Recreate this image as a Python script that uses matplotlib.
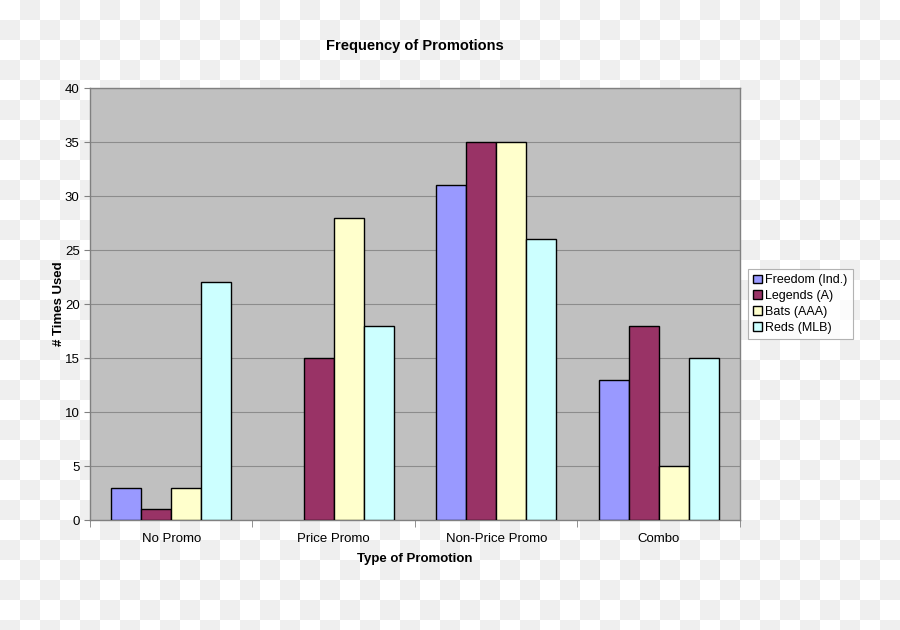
import matplotlib
matplotlib.use("Agg")
import matplotlib.pyplot as plt
import numpy as np
from matplotlib.patches import Rectangle

categories = ["No Promo", "Price Promo", "Non-Price Promo", "Combo"]
series_names = ["Freedom (Ind.)", "Legends (A)", "Bats (AAA)", "Reds (MLB)"]
freedom = [3, 0, 31, 13]
legends = [1, 15, 35, 18]
bats = [3, 28, 35, 5]
reds = [22, 18, 26, 15]
colors = ["#9999ff", "#993366", "#ffffcc", "#ccffff"]

plt.rcParams["font.family"] = ["Liberation Sans", "DejaVu Sans"]

fig = plt.figure(figsize=(9, 6.3), dpi=100, facecolor="white")

# checkerboard background (transparency pattern in the reference), 20px squares
sq_w, sq_h = 20 / 900, 20 / 630
for r in range(32):
    for c in range(45):
        if (r + c) % 2 == 1:
            fig.add_artist(Rectangle((c * sq_w, 1 - (r + 1) * sq_h), sq_w, sq_h,
                                     transform=fig.transFigure, facecolor="#efefef",
                                     edgecolor="none", zorder=-5))

ax = fig.add_axes([0.1, 0.1746, 0.7222, 0.6857])
ax.set_facecolor("#c0c0c0")

x = np.arange(len(categories))
bw = 0.185
for i, (vals, name) in enumerate(zip([freedom, legends, bats, reds], series_names)):
    edges = ["black" if v > 0 else "none" for v in vals]
    ax.bar(x + (i - 1.5) * bw, vals, bw, color=colors[i], edgecolor=edges,
           linewidth=1.0, label=name, zorder=3)

ax.set_xlim(-0.5, 3.5)
ax.set_ylim(0, 40)
ax.set_yticks(range(0, 41, 5))
ax.yaxis.grid(True, color="#8c8c8c", linewidth=0.8, zorder=0)
ax.set_axisbelow(True)

ax.set_xticks(x)
ax.set_xticklabels(categories, fontsize=9.5)
ax.tick_params(axis="x", length=0, pad=9)
ax.set_xticks(np.arange(-0.5, 4.0, 1.0), minor=True)
ax.tick_params(axis="x", which="minor", length=5, direction="out", color="#808080")
ax.tick_params(axis="y", labelsize=9.5, length=4, color="#808080")

for s in ax.spines.values():
    s.set_color("#808080")
    s.set_linewidth(1.0)

ax.set_title("Frequency of Promotions", fontsize=10.5, fontweight="bold", pad=27.5)
ax.set_xlabel("Type of Promotion", fontsize=9.5, fontweight="bold", labelpad=6)
ax.set_ylabel("# Times Used", fontsize=9.5, fontweight="bold", labelpad=0)

leg = ax.legend(loc="center left", bbox_to_anchor=(1.012, 0.5), fontsize=9,
                frameon=True, fancybox=False, edgecolor="#a0a0a0",
                handlelength=0.7, handleheight=0.7, handletextpad=0.3,
                borderpad=0.4, labelspacing=0.3, borderaxespad=0)
leg.get_frame().set_linewidth(0.8)

fig.savefig("out.png", dpi=100)
